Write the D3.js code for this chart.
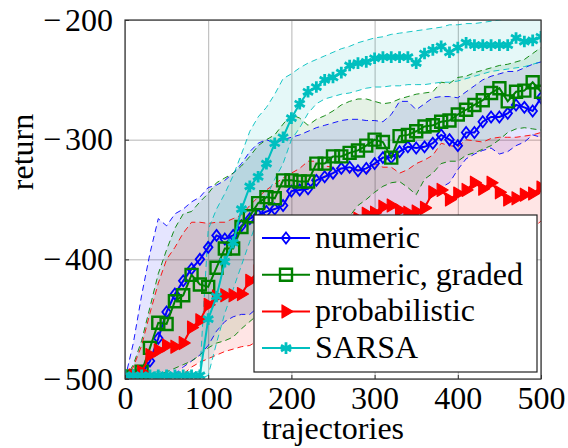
<!DOCTYPE html>
<html>
<head>
<meta charset="utf-8">
<script src="https://cdnjs.cloudflare.com/ajax/libs/d3/7.8.5/d3.min.js"></script>
<style>
body{margin:0;background:#fff;}
svg text{font-family:'Liberation Serif','Times New Roman',Times,'DejaVu Serif',serif;fill:#000;}
</style>
</head>
<body>
<svg id="chart" width="568" height="448"></svg>
<script>
// data, one value per 10 trajectories
const trajectories=[0,10,20,30,40,50,60,70,80,90,100,110,120,130,140,150,160,170,180,190,200,
  210,220,230,240,250,260,270,280,290,300,310,320,330,340,350,360,370,380,390,400,
  410,420,430,440,450,460,470,480,490,500];

const numeric=[-500,-499,-496,-485,-466,-444,-429,-418,-408,-400,-390,-380,-383,-380,-372,-366,-363,-360,-358,-355,-343,
  -342,-341,-334,-331,-328,-324,-323,-326,-324,-320,-315,-315,-310,-306,-307,-306,-303,-296,-300,-305,
  -294,-294,-285,-281,-281,-278,-271,-273,-276,-265];
const numericUpper=[-500,-470,-430,-395,-366,-372,-362,-358,-352,-348,-340,-338,-334,-328,-320,-310,-303,-300,-303,-300,-298,
  -296,-293,-290,-288,-286,-284,-283,-283,-284,-284,-285,-279,-268,-268,-275,-270,-265,-264,-264,-265,
  -260,-255,-250,-247,-245,-243,-243,-240,-237,-235];
const numericLower=[-500,-500,-500,-500,-499,-498,-496,-490,-485,-480,-472,-460,-452,-448,-446,-446,-440,-436,-430,-425,-420,
  -414,-410,-405,-400,-395,-390,-386,-382,-378,-373,-369,-365,-362,-360,-362,-355,-347,-340,-336,-325,
  -316,-312,-309,-307,-312,-310,-305,-302,-296,-298];

const graded=[-498,-498,-494,-474,-453,-454,-435,-430,-413,-421,-423,-407,-391,-391,-373,-364,-353,-348,-349,-334,-334,
  -335,-335,-320,-320,-314,-314,-311,-309,-305,-300,-302,-315,-297,-296,-293,-289,-288,-285,-284,-279,
  -275,-271,-267,-261,-257,-268,-260,-259,-252,-260];
const gradedUpper=[-500,-488,-468,-440,-412,-392,-374,-362,-360,-352,-345,-336,-332,-328,-322,-314,-305,-300,-296,-287,-279,
  -282,-288,-283,-280,-276,-271,-268,-266,-266,-268,-270,-269,-266,-264,-262,-261,-260,-252,-253,-248,
  -247,-244,-242,-240,-238,-237,-235,-233,-228,-223];
const gradedLower=[-500,-500,-500,-499,-497,-494,-491,-488,-485,-480,-474,-470,-468,-465,-458,-452,-446,-440,-433,-427,-420,
  -412,-405,-397,-389,-380,-372,-364,-355,-350,-344,-339,-336,-335,-340,-346,-333,-328,-320,-318,-318,
  -313,-311,-308,-305,-300,-294,-291,-290,-291,-292];

const probabilistic=[-498,-497,-494,-480,-476,-472,-473,-470,-457,-451,-438,-431,-430,-430,-429,-418,-410,-405,-400,-396,-392,
  -388,-385,-382,-378,-375,-372,-369,-366,-362,-361,-356,-355,-359,-361,-360,-357,-344,-342,-350,-345,
  -342,-336,-341,-336,-344,-350,-349,-346,-345,-340];
const probabilisticUpper=[-500,-490,-472,-445,-420,-400,-390,-378,-369,-369,-370,-369,-369,-366,-363,-355,-348,-342,-337,-332,-328,
  -324,-318,-318,-322,-323,-324,-326,-325,-327,-320,-323,-323,-328,-325,-320,-317,-313,-303,-305,-306,
  -300,-301,-302,-299,-298,-298,-298,-297,-296,-294];
const probabilisticLower=[-500,-500,-500,-500,-500,-500,-499,-496,-490,-486,-483,-480,-477,-475,-473,-472,-468,-464,-460,-456,-452,
  -448,-444,-440,-436,-432,-428,-424,-420,-416,-412,-408,-404,-401,-398,-395,-392,-390,-388,-386,-385,
  -384,-382,-381,-380,-379,-378,-377,-376,-374,-368];

const sarsa=[-497,-497,-497,-497,-497,-497,-497,-497,-497,-497,-450,-431,-402,-386,-358,-339,-331,-320,-303,-298,-282,
  -270,-260,-256,-250,-248,-244,-238,-236,-235,-232,-231,-231,-231,-231,-236,-228,-225,-222,-227,-223,
  -219,-221,-221,-221,-221,-221,-215,-218,-217,-214];
const sarsaUpper=[-494,-494,-494,-494,-494,-494,-494,-494,-494,-494,-375,-358,-345,-330,-312,-293,-281,-273,-262,-249,-245,
  -240,-236,-233,-230,-227,-224,-222,-219,-217,-215,-214,-212,-211,-210,-209,-208,-207,-206,-204,-204,
  -203,-203,-202,-201,-200,-199,-199,-198,-197,-198];
const sarsaLower=[-500,-500,-500,-500,-500,-500,-500,-500,-500,-500,-497,-470,-445,-425,-405,-385,-365,-348,-333,-320,-300,
  -290,-278,-270,-266,-264,-262,-261,-259,-257,-256,-256,-255,-255,-254,-254,-254,-253,-252,-252,-251,
  -249,-247,-245,-243,-242,-241,-240,-239,-237,-235];

const xTicks=[0,100,200,300,400,500];
const yTicks=[-500,-400,-300,-200];
const seriesNames=["numeric","numeric, graded","probabilistic","SARSA"];

const series=[
  {name:seriesNames[0],values:numeric,upper:numericUpper,lower:numericLower,color:"#0000ff",mark:"diamond"},
  {name:seriesNames[1],values:graded,upper:gradedUpper,lower:gradedLower,color:"#008000",mark:"square"},
  {name:seriesNames[2],values:probabilistic,upper:probabilisticUpper,lower:probabilisticLower,color:"#ff0000",mark:"triangle"},
  {name:seriesNames[3],values:sarsa,upper:sarsaUpper,lower:sarsaLower,color:"#00bfbf",mark:"asterisk"}
];

const plotLeft=125, plotTop=20, plotRight=541, plotBottom=379;
const serif="'Liberation Serif','Times New Roman',Times,'DejaVu Serif',serif";
const svg=d3.select("#chart");

const x=d3.scaleLinear().domain([0,500]).range([plotLeft,plotRight]);
const y=d3.scaleLinear().domain([-500,-200]).range([plotBottom,plotTop]);

svg.append("defs").append("clipPath").attr("id","plotClip")
  .append("rect").attr("x",plotLeft).attr("y",plotTop).attr("width",plotRight-plotLeft).attr("height",plotBottom-plotTop);

// grid
svg.append("g")
  .attr("transform","translate(0,"+plotBottom+")")
  .call(d3.axisBottom(x).tickValues(xTicks).tickSize(-(plotBottom-plotTop)).tickFormat(""))
  .call(g=>g.select(".domain").remove())
  .call(g=>g.selectAll("line").attr("stroke","#b5b5b5").attr("stroke-width",1));
svg.append("g")
  .attr("transform","translate("+plotLeft+",0)")
  .call(d3.axisLeft(y).tickValues(yTicks).tickSize(-(plotRight-plotLeft)).tickFormat(""))
  .call(g=>g.select(".domain").remove())
  .call(g=>g.selectAll("line").attr("stroke","#b5b5b5").attr("stroke-width",1));

const plot=svg.append("g").attr("clip-path","url(#plotClip)");

// bands
const area=d3.area().x((d,i)=>x(trajectories[i])).y0(d=>y(d[0])).y1(d=>y(d[1]));
const bound=d3.line().x((d,i)=>x(trajectories[i])).y(d=>y(d));

series.forEach(s=>{
  plot.append("path")
    .datum(s.lower.map((v,i)=>[v,s.upper[i]]))
    .attr("d",area)
    .attr("fill",s.color)
    .attr("fill-opacity",0.1);
});
series.forEach(s=>{
  [s.upper,s.lower].forEach(b=>{
    plot.append("path")
      .datum(b)
      .attr("d",bound)
      .attr("fill","none")
      .attr("stroke",s.color)
      .attr("stroke-width",0.9)
      .attr("stroke-dasharray","6,4");
  });
});

// marker shapes
function markPath(type){
  if(type==="diamond") return "M0,-5.5L4.3,0L0,5.5L-4.3,0Z";
  if(type==="square") return "M-6,-6H6V6H-6Z";
  if(type==="triangle") return "M7,0L-4,-6.5L-4,6.5Z";
  let p="";
  [90,30,-30].forEach(a=>{
    const r=5.8, c=Math.cos(a*Math.PI/180)*r, s=Math.sin(a*Math.PI/180)*r;
    p+="M"+(-c)+","+(-s)+"L"+c+","+s;
  });
  return p;
}
function styleMark(sel,s){
  if(s.mark==="diamond") sel.attr("fill","none").attr("stroke",s.color).attr("stroke-width",1.8);
  else if(s.mark==="square") sel.attr("fill","none").attr("stroke",s.color).attr("stroke-width",2.4);
  else if(s.mark==="triangle") sel.attr("fill",s.color).attr("stroke",s.color).attr("stroke-width",1.2).attr("stroke-linejoin","round");
  else sel.attr("fill","none").attr("stroke",s.color).attr("stroke-width",2.8);
}

const line=d3.line().x((d,i)=>x(trajectories[i])).y(d=>y(d));

series.forEach(s=>{
  const g=plot.append("g");
  g.append("path")
    .datum(s.values)
    .attr("d",line)
    .attr("fill","none")
    .attr("stroke",s.color)
    .attr("stroke-width",2);
  g.selectAll(".mk")
    .data(s.values)
    .enter()
    .append("path")
    .attr("class","mk")
    .attr("transform",(d,i)=>"translate("+x(trajectories[i])+","+y(d)+")")
    .attr("d",markPath(s.mark))
    .call(sel=>styleMark(sel,s));
});

// axes with inward ticks
const xAxis=svg.append("g")
  .attr("transform","translate(0,"+plotBottom+")")
  .call(d3.axisBottom(x).tickValues(xTicks).tickSize(-4).tickPadding(7).tickFormat(d=>String(d)))
  .attr("font-family",serif).attr("font-size",32);
xAxis.select(".domain").remove();
xAxis.selectAll("line").attr("stroke","#333");
xAxis.selectAll("text").attr("fill","#000");

const yAxis=svg.append("g")
  .attr("transform","translate("+plotLeft+",0)")
  .call(d3.axisLeft(y).tickValues(yTicks).tickSize(-4).tickPadding(12).tickFormat(""))
  .attr("font-family",serif).attr("font-size",32);
yAxis.select(".domain").remove();
yAxis.selectAll("line").attr("stroke","#333");
// math-style minus: wider gap between sign and digits
yAxis.selectAll(".tick text").each(function(d){
  const t=d3.select(this);
  t.append("tspan").text("\u2212");
  t.append("tspan").attr("dx",4).text(Math.abs(d));
}).attr("fill","#000");

svg.append("rect")
  .attr("x",plotLeft).attr("y",plotTop).attr("width",plotRight-plotLeft).attr("height",plotBottom-plotTop)
  .attr("fill","none").attr("stroke","#333").attr("stroke-width",1.2);

svg.append("text")
  .attr("x",(plotLeft+plotRight)/2).attr("y",439)
  .attr("text-anchor","middle").attr("font-size",32)
  .text("trajectories");
svg.append("text")
  .attr("transform","translate(33,152) rotate(-90)")
  .attr("text-anchor","middle").attr("font-size",32)
  .text("return");

// legend
const legend=svg.append("g");
legend.append("rect")
  .attr("x",254).attr("y",215).attr("width",283).attr("height",157)
  .attr("fill","#fff").attr("stroke","#222").attr("stroke-width",1.2);
series.forEach((s,i)=>{
  const ly=238+i*36.7;
  legend.append("line")
    .attr("x1",262).attr("x2",310).attr("y1",ly).attr("y2",ly)
    .attr("stroke",s.color).attr("stroke-width",2);
  legend.append("path")
    .attr("transform","translate(286,"+ly+")")
    .attr("d",markPath(s.mark))
    .call(sel=>styleMark(sel,s));
  legend.append("text")
    .attr("x",315).attr("y",ly+10)
    .attr("font-size",32)
    .text(s.name);
});
</script>
</body>
</html>
